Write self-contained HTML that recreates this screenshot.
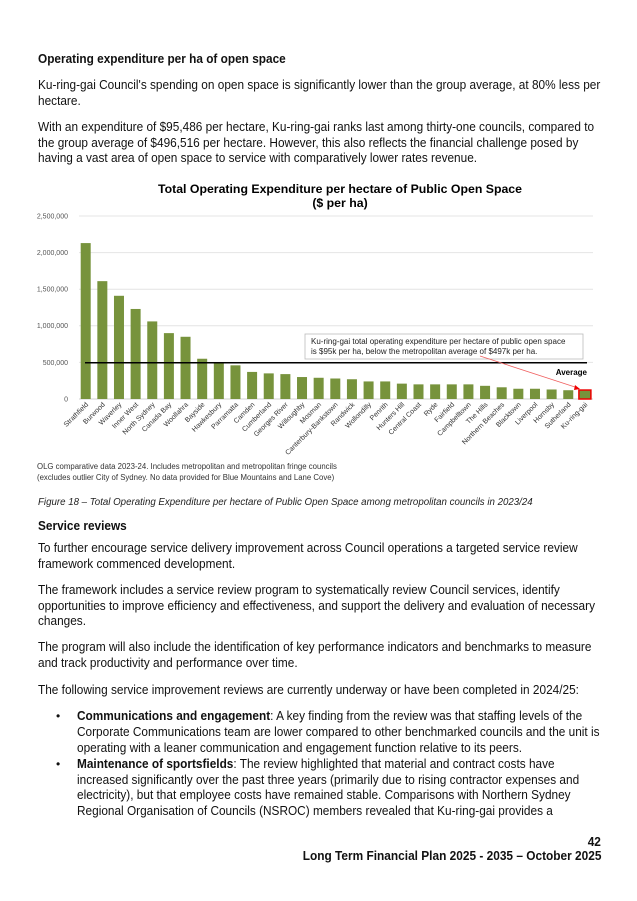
<!DOCTYPE html>
<html><head><meta charset="utf-8"><style>
body{margin:0;background:#fff;width:637px;height:901px;position:relative;overflow:hidden;font-family:"Liberation Sans",Arial,sans-serif;color:#111}
.l,.bl{position:absolute;font-size:12.5px;line-height:16px;white-space:nowrap;transform:scaleX(0.946);transform-origin:0 0}
.l{left:38px}
.bl{left:77px}
.b{font-weight:bold}
.dot{position:absolute;left:56px;font-size:12px;line-height:16px}
.r{position:absolute;right:36px;font-size:12.5px;font-weight:bold;white-space:nowrap;transform:scaleX(0.95);transform-origin:100% 0}
</style></head><body>
<div class="l b" style="top:51px">Operating expenditure per ha of open space</div>
<div class="l" style="top:77px">Ku-ring-gai Council's spending on open space is significantly lower than the group average, at 80% less per</div>
<div class="l" style="top:93px">hectare.</div>
<div class="l" style="top:119px">With an expenditure of $95,486 per hectare, Ku-ring-gai ranks last among thirty-one councils, compared to</div>
<div class="l" style="top:135px">the group average of $496,516 per hectare. However, this also reflects the financial challenge posed by</div>
<div class="l" style="top:150px">having a vast area of open space to service with comparatively lower rates revenue.</div>

<svg style="position:absolute;left:0;top:0" width="637" height="490" font-family="Liberation Sans,Arial,sans-serif">
<text x="340" y="193" font-size="12.3" font-weight="bold" text-anchor="middle">Total Operating Expenditure per hectare of Public Open Space</text>
<text x="340" y="207" font-size="12.3" font-weight="bold" text-anchor="middle">($ per ha)</text>
<g stroke="#e4e4e4" stroke-width="1">
<line x1="79" x2="593" y1="216" y2="216"/><line x1="79" x2="593" y1="252.6" y2="252.6"/><line x1="79" x2="593" y1="289.2" y2="289.2"/><line x1="79" x2="593" y1="325.8" y2="325.8"/><line x1="79" x2="593" y1="362.4" y2="362.4"/>
</g>
<line x1="79" x2="593" y1="399" y2="399" stroke="#d0d0d0"/>
<g font-size="7" fill="#555" text-anchor="end">
<text x="68" y="218.5">2,500,000</text><text x="68" y="255">2,000,000</text><text x="68" y="291.5">1,500,000</text><text x="68" y="328">1,000,000</text><text x="68" y="365">500,000</text><text x="68" y="401.5">0</text>
</g>
<g id="bars" fill="#77933c"></g>
<line x1="85" x2="587" y1="362.7" y2="362.7" stroke="#000" stroke-width="1.5"/>
<rect x="305" y="334" width="278" height="25" fill="#fff" stroke="#bbb" stroke-width="0.8"/>
<text x="311" y="344" font-size="8" fill="#222">Ku-ring-gai total operating expenditure per hectare of public open space</text>
<text x="311" y="354" font-size="8" fill="#222">is $95k per ha, below the metropolitan average of $497k per ha.</text>
<text x="587" y="375" font-size="8" font-weight="bold" text-anchor="end">Average</text>
<line x1="480" y1="356" x2="578" y2="388" stroke="#f06060" stroke-width="0.8"/>
<polygon points="580,389 575,385 574,390" fill="#e00"/>
<g id="labs" font-size="7" fill="#333" text-anchor="end"></g>
<text x="37" y="469" font-size="7.8" fill="#333">OLG comparative data 2023-24. Includes metropolitan and metropolitan fringe councils</text>
<text x="37" y="480" font-size="7.8" fill="#333">(excludes outlier City of Sydney. No data provided for Blue Mountains and Lane Cove)</text>
</svg>
<script>
var d=[["Strathfield",2.13],["Burwood",1.61],["Waverley",1.41],["Inner West",1.23],["North Sydney",1.06],["Canada Bay",0.9],["Woollahra",0.85],["Bayside",0.55],["Hawkesbury",0.5],["Parramatta",0.46],["Camden",0.37],["Cumberland",0.35],["Georges River",0.34],["Willoughby",0.3],["Mosman",0.29],["Canterbury-Bankstown",0.28],["Randwick",0.27],["Wollondilly",0.24],["Penrith",0.24],["Hunters Hill",0.21],["Central Coast",0.2],["Ryde",0.2],["Fairfield",0.2],["Campbelltown",0.2],["The Hills",0.18],["Northern Beaches",0.16],["Blacktown",0.14],["Liverpool",0.14],["Hornsby",0.13],["Sutherland",0.12],["Ku-ring-gai",0.095]];
var ns="http://www.w3.org/2000/svg",b=document.getElementById("bars"),l=document.getElementById("labs");
d.forEach(function(e,i){var cx=85.7+i*16.64,h=e[1]*73.2;var r=document.createElementNS(ns,"rect");r.setAttribute("x",cx-5);r.setAttribute("y",399-h);r.setAttribute("width",10);r.setAttribute("height",h);
if(i==30){r.setAttribute("stroke","#e00");r.setAttribute("stroke-width","1.5");r.setAttribute("x",cx-6);r.setAttribute("width",12);r.setAttribute("y",399-h-2);r.setAttribute("height",h+2);}
b.appendChild(r);var t=document.createElementNS(ns,"text");t.setAttribute("transform","translate("+(cx+3)+",405) rotate(-45)");t.textContent=e[0];l.appendChild(t);});
</script>
<div style="position:absolute;left:38px;top:497px;font-size:10px;font-style:italic;color:#222;white-space:nowrap;transform:scaleX(0.97);transform-origin:0 0">Figure 18 – Total Operating Expenditure per hectare of Public Open Space among metropolitan councils in 2023/24</div>
<div class="l b" style="top:518px">Service reviews</div>
<div class="l" style="top:540px">To further encourage service delivery improvement across Council operations a targeted service review</div>
<div class="l" style="top:556px">framework commenced development.</div>
<div class="l" style="top:582px">The framework includes a service review program to systematically review Council services, identify</div>
<div class="l" style="top:598px">opportunities to improve efficiency and effectiveness, and support the delivery and evaluation of necessary</div>
<div class="l" style="top:613px">changes.</div>
<div class="l" style="top:639px">The program will also include the identification of key performance indicators and benchmarks to measure</div>
<div class="l" style="top:655px">and track productivity and performance over time.</div>
<div class="l" style="top:682px">The following service improvement reviews are currently underway or have been completed in 2024/25:</div>
<div class="dot" style="top:708px">•</div>
<div class="bl" style="top:708px"><b>Communications and engagement</b>: A key finding from the review was that staffing levels of the</div>
<div class="bl" style="top:724px">Corporate Communications team are lower compared to other benchmarked councils and the unit is</div>
<div class="bl" style="top:740px">operating with a leaner communication and engagement function relative to its peers.</div>
<div class="dot" style="top:756px">•</div>
<div class="bl" style="top:756px"><b>Maintenance of sportsfields</b>: The review highlighted that material and contract costs have</div>
<div class="bl" style="top:772px">increased significantly over the past three years (primarily due to rising contractor expenses and</div>
<div class="bl" style="top:787px">electricity), but that employee costs have remained stable. Comparisons with Northern Sydney</div>
<div class="bl" style="top:803px">Regional Organisation of Councils (NSROC) members revealed that Ku-ring-gai provides a</div>
<div class="r" style="top:835px">42</div>
<div class="r" style="top:849px">Long Term Financial Plan 2025 - 2035 – October 2025</div>
</body></html>
